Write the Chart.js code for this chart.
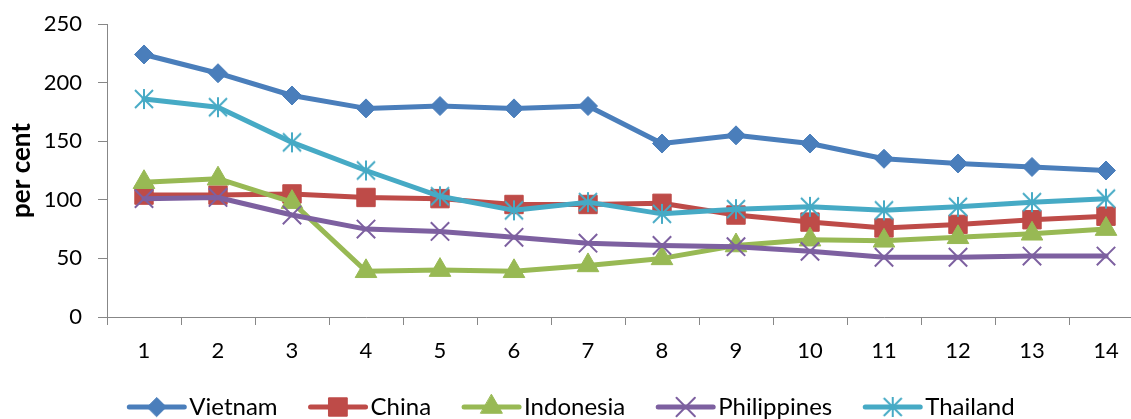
<!DOCTYPE html>
<html lang="en">
<head>
<meta charset="utf-8"/>
<title>per cent</title>
<script src="https://cdn.jsdelivr.net/npm/chart.js@4"></script>
<style>
  html, body { margin: 0; padding: 0; background: #fff; overflow: hidden; }
  .wrap { width: 1131px; height: 419px; overflow: hidden; }
</style>
</head>
<body>
<div class="wrap"><canvas id="chart" width="1160" height="430"></canvas></div>
<script>
const periods = ['1', '2', '3', '4', '5', '6', '7', '8', '9', '10', '11', '12', '13', '14'];
const vietnam = [224, 208, 189, 178, 180, 178, 180, 148, 155, 148, 135, 131, 128, 125];
const china = [104, 104, 105, 102, 101, 96, 96, 97, 87, 81, 76, 79, 83, 86];
const indonesia = [115, 118, 98, 39, 40, 39, 44, 50, 61, 66, 65, 68, 71, 75];
const philippines = [101, 102, 87, 75, 73, 68, 63, 61, 60, 56, 51, 51, 52, 52];
const thailand = [186, 179, 149, 125, 103, 91, 98, 88, 92, 94, 91, 94, 98, 101];
const yTicks = [0, 50, 100, 150, 200, 250];

const FONT = 'Lato';
const AXIS = '#878787';

// asterisk marker: an X with a vertical bar through it
function asterisk(color) {
  const c = document.createElement('canvas');
  c.width = 22; c.height = 22;
  const g = c.getContext('2d');
  g.strokeStyle = color;
  g.lineWidth = 2;
  g.beginPath();
  g.moveTo(2, 2); g.lineTo(20, 20);
  g.moveTo(20, 2); g.lineTo(2, 20);
  g.moveTo(11, 1); g.lineTo(11, 21);
  g.stroke();
  return c;
}

function series(label, data, color, style, radius, order) {
  return {
    label, data, order,
    borderColor: color,
    backgroundColor: color,
    borderWidth: 5,
    borderCapStyle: 'round',
    borderJoinStyle: 'round',
    pointStyle: style,
    pointRadius: radius,
    pointBackgroundColor: color,
    pointBorderColor: color,
    pointBorderWidth: style === 'crossRot' ? 2 : 1,
    tension: 0
  };
}

// line sample + marker legend under the axis
const lineLegend = {
  id: 'lineLegend',
  afterDraw(chart) {
    const ctx = chart.ctx;
    const y = chart.chartArea.bottom + 90;
    const sets = chart.data.datasets;
    ctx.save();
    ctx.font = '24px ' + FONT;
    const widths = sets.map(ds => ctx.measureText(ds.label).width);
    const total = widths.reduce((s, w) => s + 60 + w, 0) + 33 * (sets.length - 1);
    let x = 572 - total / 2;
    sets.forEach((ds, i) => {
      ctx.strokeStyle = ds.borderColor;
      ctx.lineWidth = ds.borderWidth;
      ctx.lineCap = 'round';
      ctx.beginPath();
      ctx.moveTo(x, y);
      ctx.lineTo(x + 55, y);
      ctx.stroke();
      ctx.fillStyle = ds.pointBackgroundColor;
      ctx.strokeStyle = ds.pointBorderColor;
      ctx.lineWidth = ds.pointBorderWidth;
      Chart.helpers.drawPoint(ctx, {
        pointStyle: ds.pointStyle, radius: ds.pointRadius, rotation: 0, borderWidth: ds.pointBorderWidth
      }, x + 27.5, y);
      ctx.fillStyle = '#000';
      ctx.textBaseline = 'middle';
      ctx.textAlign = 'left';
      ctx.fillText(ds.label, x + 60, y);
      x += 60 + widths[i] + 33;
    });
    ctx.restore();
  }
};

new Chart(document.getElementById('chart'), {
  type: 'line',
  data: {
    labels: periods,
    datasets: [
      series('Vietnam', vietnam, '#4A7EBB', 'rectRot', 9.5, 4),
      series('China', china, '#BE4B48', 'rect', 13, 3),
      series('Indonesia', indonesia, '#98B954', 'triangle', 12.5, 2),
      series('Philippines', philippines, '#7D60A0', 'crossRot', 13, 1),
      series('Thailand', thailand, '#46AAC5', asterisk('#46AAC5'), 11, 0)
    ]
  },
  options: {
    responsive: false,
    animation: false,
    devicePixelRatio: 1,
    layout: { autoPadding: false, padding: { top: 24, right: 17, bottom: 63, left: 0 } },
    plugins: {
      legend: { display: false },
      tooltip: { enabled: false }
    },
    scales: {
      x: {
        offset: true,
        grid: { offset: true, drawOnChartArea: false, tickLength: 8, color: AXIS },
        border: { color: AXIS },
        ticks: { padding: 13, color: '#000', font: { family: FONT, size: 22 } },
        afterFit: s => { s.height = 50; }
      },
      y: {
        min: 0,
        max: 250,
        afterBuildTicks: s => { s.ticks = yTicks.map(v => ({ value: v })); },
        grid: { drawOnChartArea: false, tickLength: 9, color: AXIS },
        border: { color: AXIS },
        ticks: { padding: 16, color: '#000', font: { family: FONT, size: 22 } },
        title: {
          display: true,
          text: 'per cent',
          color: '#000',
          font: { family: FONT, size: 26, weight: 'bold' },
          padding: { top: 6 }
        },
        // fixed axis width; tick padding should not push the plot down
        afterFit: s => { s.width = 107; s.paddingTop = 0; s.paddingBottom = 0; }
      }
    }
  },
  plugins: [lineLegend]
});
</script>
</body>
</html>
